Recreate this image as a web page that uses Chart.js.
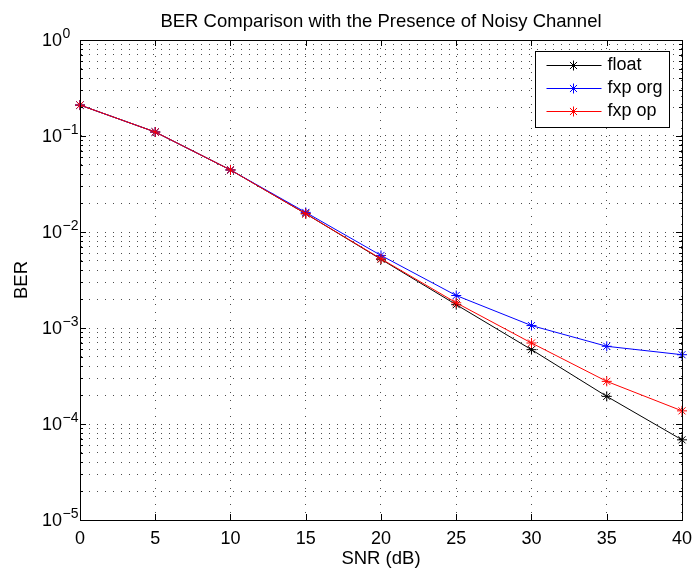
<!DOCTYPE html>
<html>
<head>
<meta charset="utf-8">
<script src="https://cdn.jsdelivr.net/npm/chart.js@4/dist/chart.umd.min.js"></script>
<style>
  html, body { margin: 0; padding: 0; background: #ffffff; }
  #wrap { width: 700px; height: 571px; }
</style>
</head>
<body>
<div id="wrap"><canvas id="c" width="700" height="571"></canvas></div>
<script>
// ---- data ----
const snr = [0, 5, 10, 15, 20, 25, 30, 35, 40];
const berFloat  = [0.21, 0.110, 0.0443, 0.0155, 0.0052, 0.00175, 0.000595, 0.000194, 0.0000684];
const berFxpOrg = [0.21, 0.110, 0.0443, 0.0160, 0.0057, 0.00218, 0.00106, 0.000645, 0.000527];
const berFxpOp  = [0.21, 0.110, 0.0443, 0.0155, 0.00526, 0.00183, 0.000698, 0.000278, 0.000137];
const seriesNames = ['float', 'fxp org', 'fxp op'];
const xTicks = [0, 5, 10, 15, 20, 25, 30, 35, 40];
const yDecadeExps = [-5, -4, -3, -2, -1, 0];
const yTickBase = '10';
const yTickExpLabels = ['\u22125', '\u22124', '\u22123', '\u22122', '\u22121', '0'];
const titleText = 'BER Comparison with the Presence of Noisy Channel';
const xTitle = 'SNR (dB)';
const yTitle = 'BER';

const FONT = "Arial, 'Liberation Sans', Helvetica, sans-serif";

function toPoints(ys) { return snr.map((x, i) => ({ x: x, y: ys[i] })); }

// log ticks: 1..9 x 10^k
function buildLogTicks() {
  const t = [];
  for (let k = yDecadeExps[0]; k <= yDecadeExps[yDecadeExps.length - 1]; k++) {
    const maxM = (k === yDecadeExps[yDecadeExps.length - 1]) ? 1 : 9;
    for (let m = 1; m <= maxM; m++) t.push(Number(m + 'e' + k));
  }
  return t;
}
function decadeIndex(v) {
  const e = Math.round(Math.log10(v));
  if (Math.abs(v - Number('1e' + e)) / v < 1e-6) return yDecadeExps.indexOf(e);
  return -1;
}

const frameAndLegend = {
  id: 'frameAndLegend',
  afterDraw(chart) {
    const ctx = chart.ctx;
    const a = chart.chartArea;
    const xs = chart.scales.x, ys = chart.scales.y;
    ctx.save();
    ctx.strokeStyle = '#000';
    ctx.lineWidth = 1;
    ctx.setLineDash([]);
    // inner tick marks
    ctx.beginPath();
    ys.ticks.forEach(t => {
      const py = Math.round(ys.getPixelForValue(t.value)) + 0.5;
      const len = decadeIndex(t.value) >= 0 ? 6 : 3;
      ctx.moveTo(a.left, py); ctx.lineTo(a.left + len, py);
      ctx.moveTo(a.right, py); ctx.lineTo(a.right - len, py);
    });
    xs.ticks.forEach(t => {
      const px = Math.round(xs.getPixelForValue(t.value)) + 0.5;
      ctx.moveTo(px, a.bottom); ctx.lineTo(px, a.bottom - 6);
      ctx.moveTo(px, a.top); ctx.lineTo(px, a.top + 6);
    });
    ctx.stroke();
    // frame
    ctx.strokeRect(Math.round(a.left) + 0.5, Math.round(a.top) + 0.5,
                   Math.round(a.right - a.left), Math.round(a.bottom - a.top));

    // y decade labels: 10 with raised exponent
    ctx.fillStyle = '#000';
    ys.ticks.forEach(t => {
      const idx = decadeIndex(t.value);
      if (idx < 0) return;
      const py = ys.getPixelForValue(t.value);
      const xr = a.left - 18;
      ctx.font = '18px ' + FONT;
      ctx.textAlign = 'right';
      ctx.textBaseline = 'middle';
      ctx.fillText(yTickBase, xr, py + 1);
      ctx.font = '14px ' + FONT;
      ctx.textAlign = 'left';
      ctx.textBaseline = 'alphabetic';
      ctx.fillText(yTickExpLabels[idx], xr + 0.5, py - 2);
    });

    // legend inside the plot (top-right)
    const bw = 134, bh = 76;
    const bx = Math.round(a.right - 13 - bw) + 0.5;
    const by = Math.round(a.top + 11) + 0.5;
    ctx.fillStyle = '#fff';
    ctx.fillRect(bx, by, bw, bh);
    ctx.strokeStyle = '#000';
    ctx.strokeRect(bx, by, bw, bh);
    const rows = [13.5, 36.5, 59];
    chart.data.datasets.forEach((ds, i) => {
      const ry = Math.round(by + rows[i]) + 0.5;
      ctx.strokeStyle = ds.borderColor;
      ctx.lineWidth = 1;
      ctx.beginPath();
      ctx.moveTo(bx + 11, ry); ctx.lineTo(bx + 66, ry);
      ctx.stroke();
      Chart.helpers.drawPoint(ctx, { pointStyle: 'star', radius: 5, borderWidth: 1, rotation: 0 }, bx + 38, ry);
      ctx.fillStyle = '#000';
      ctx.font = '18px ' + FONT;
      ctx.textAlign = 'left';
      ctx.textBaseline = 'middle';
      ctx.fillText(ds.label, bx + 72, ry);
    });
    ctx.restore();
  }
};

const colors = ['#000000', '#0000ff', '#ff0000'];
const seriesData = [berFloat, berFxpOrg, berFxpOp];

new Chart(document.getElementById('c'), {
  type: 'line',
  data: {
    datasets: seriesData.map((ys, i) => ({
      label: seriesNames[i],
      data: toPoints(ys),
      borderColor: colors[i],
      backgroundColor: colors[i],
      pointBorderColor: colors[i],
      borderWidth: 1,
      pointStyle: 'star',
      pointRadius: 5,
      pointBorderWidth: 1,
      pointHoverRadius: 5,
      fill: false,
      tension: 0,
      clip: false,
      order: 2 - i
    }))
  },
  options: {
    responsive: false,
    animation: false,
    devicePixelRatio: 1,
    layout: { padding: { left: 0, right: 12, top: 0, bottom: 0 } },
    plugins: {
      legend: { display: false },
      tooltip: { enabled: false },
      title: {
        display: true,
        fullSize: false,
        text: titleText,
        color: '#000',
        font: { family: FONT, size: 18.5, weight: 'normal', lineHeight: 1.2 },
        padding: { top: 10.5, bottom: 7.3 }
      }
    },
    scales: {
      x: {
        type: 'linear',
        min: 0, max: 40,
        afterFit(s) { s.height = 51; },
        afterBuildTicks(s) { s.ticks = xTicks.map(v => ({ value: v })); },
        ticks: { color: '#000', font: { family: FONT, size: 18 }, padding: 8, autoSkip: false, maxRotation: 0 },
        grid: { color: 'rgba(0,0,0,0.7)', lineWidth: 1, drawTicks: false },
        border: { display: true, color: '#000', width: 1, dash: [1, 7] },
        title: { display: true, text: xTitle, color: '#000', font: { family: FONT, size: 18.5, lineHeight: 1.2 }, padding: { top: 0, bottom: 1 } }
      },
      y: {
        type: 'logarithmic',
        min: 1e-5, max: 1,
        afterFit(s) { s.width = 80; },
        afterBuildTicks(s) { s.ticks = buildLogTicks().map(v => ({ value: v })); },
        ticks: { display: false, autoSkip: false },
        grid: { color: 'rgba(0,0,0,0.7)', lineWidth: 1, drawTicks: false },
        border: { display: true, color: '#000', width: 1, dash: [1, 7] },
        title: { display: true, text: yTitle, color: '#000', font: { family: FONT, size: 18.5, lineHeight: 1.2 }, padding: { top: 11, bottom: 0 } }
      }
    }
  },
  plugins: [frameAndLegend]
});
</script>
</body>
</html>
